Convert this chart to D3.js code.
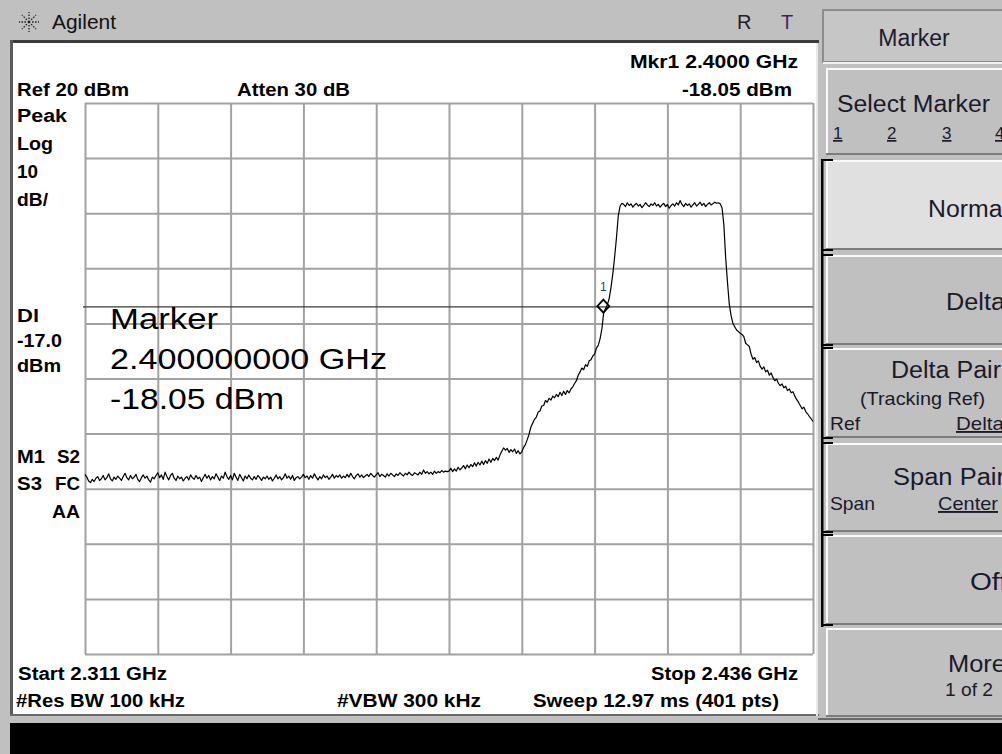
<!DOCTYPE html>
<html><head><meta charset="utf-8">
<script src="https://cdn.jsdelivr.net/npm/d3@7"></script>
<style>
html,body{margin:0;padding:0;background:#c0c0c0;overflow:hidden}
svg{display:block}
text{font-family:"Liberation Sans",Arial,sans-serif}
</style></head>
<body>
<svg id="c" width="1002" height="754"></svg>
<script>
// ---- sweep settings ----
const startGHz = 2.311, stopGHz = 2.436, sweepPoints = 401;
const refLevel = 20, dbPerDiv = 10, nDiv = 10;
const displayLine = -17.0;
const markerFreq = 2.4, markerLevel = -18.05;

// ---- trace values (dBm), 401 points in five pieces ----
const traceFloor = [ // points 0-199
-47.4,-47.9,-48.6,-48.9,-48.3,-48.7,-48.1,-47.8,-48.5,-48.2,-47.6,-48.4,-48.0,-47.3,-48.2,-48.6,-47.9,-48.3,-47.7,-48.1,
-48.5,-47.8,-47.2,-48.0,-48.4,-47.6,-48.2,-47.9,-47.4,-48.3,-48.7,-48.0,-47.5,-48.1,-47.7,-48.4,-48.8,-47.9,-48.2,-47.6,
-47.1,-48.0,-47.5,-48.3,-47.0,-47.8,-48.4,-47.6,-47.2,-48.1,-48.5,-47.7,-48.2,-47.9,-48.6,-48.1,-47.8,-48.4,-47.5,-48.0,
-48.3,-47.6,-48.2,-47.9,-48.7,-48.0,-47.4,-48.1,-47.6,-48.4,-47.8,-48.2,-47.3,-47.9,-48.5,-47.7,-48.1,-47.0,-47.8,-48.3,
-47.6,-48.4,-47.2,-47.9,-48.5,-47.4,-48.0,-48.6,-47.7,-48.2,-47.5,-48.1,-48.4,-47.8,-48.3,-47.6,-48.0,-48.5,-47.9,-48.2,
-47.7,-48.3,-47.9,-48.6,-48.1,-47.5,-48.2,-47.8,-48.4,-48.0,-47.3,-48.1,-47.7,-48.3,-47.6,-48.5,-48.0,-47.8,-48.2,-47.9,
-47.4,-48.0,-47.7,-48.3,-47.6,-48.1,-47.3,-47.9,-48.4,-47.8,-48.2,-47.5,-48.0,-47.7,-48.3,-47.9,-47.4,-48.1,-47.6,-47.9,
-47.5,-48.1,-47.7,-48.0,-47.4,-47.9,-47.2,-47.8,-48.2,-47.6,-47.3,-47.9,-47.5,-48.0,-47.7,-47.4,-47.8,-47.2,-47.6,-47.9,
-47.5,-47.1,-47.8,-47.4,-47.6,-47.9,-47.3,-47.7,-47.2,-47.5,-47.8,-47.3,-47.6,-47.1,-47.4,-47.7,-47.2,-47.5,-47.0,-47.4,
-47.6,-47.1,-47.3,-47.5,-47.0,-47.4,-46.6,-47.2,-46.9,-47.3,-47.0,-47.4,-46.8,-47.2,-46.9,-47.1,-46.7,-47.0,-46.8,-46.9];
const traceSkirt = [ // points 200-284
-46.8,-46.3,-46.9,-46.4,-46.8,-46.1,-46.6,-46.2,-45.8,-46.4,
-45.7,-46.2,-45.6,-46.0,-45.3,-45.9,-45.2,-45.7,-45.0,-45.6,
-44.9,-45.4,-44.6,-45.2,-44.5,-44.9,-44.3,-44.8,-43.9,-43.2,
-42.6,-43.0,-42.7,-43.4,-42.9,-43.3,-42.8,-43.6,-43.1,-43.7,
-43.3,-42.5,-42.0,-41.1,-40.1,-38.8,-38.1,-37.4,-37.0,-36.1,
-35.9,-35.0,-34.9,-34.0,-34.3,-33.6,-33.9,-33.2,-33.5,-32.9,
-33.3,-32.5,-33.1,-32.3,-32.9,-32.2,-32.6,-31.9,-31.5,-30.9,
-30.4,-29.4,-28.8,-28.1,-28.4,-27.5,-27.8,-26.8,-26.6,-25.9,
-25.6,-24.5,-24.0,-22.8,-21.0];
const traceEdge = [ // points 285-295
-18.05,-17.3,-16.6,-15.5,-13.5,-11.0,-8.0,-4.5,-0.5,1.3,1.8];
const tracePlateau = [ // points 296-349
1.6,1.2,1.9,1.4,1.7,1.1,1.5,1.8,1.3,1.6,1.0,1.4,1.9,1.5,1.2,1.7,1.4,1.9,1.3,1.6,
1.1,1.5,1.8,1.2,1.6,0.9,1.4,1.7,1.3,1.9,1.5,2.3,1.6,1.2,1.8,1.4,1.7,1.1,1.5,1.9,
1.3,1.6,2.0,1.4,1.8,1.2,1.6,1.9,1.5,1.7,2.0,1.8,1.9,1.7];
const traceFall = [ // points 350-400
1.0,-2.0,-8.0,-12.5,-16.5,-18.6,-20.0,-20.6,-21.2,-21.5,
-21.8,-22.0,-22.4,-23.6,-23.9,-24.2,-25.6,-26.5,-26.2,-27.1,
-26.8,-27.8,-28.3,-27.9,-28.8,-28.5,-29.4,-29.0,-29.8,-30.4,
-30.1,-30.9,-31.3,-31.0,-31.7,-31.4,-32.2,-31.9,-32.6,-32.4,
-33.2,-33.8,-34.3,-34.9,-35.5,-35.2,-36.0,-36.4,-36.9,-37.3,-37.8];

// ---- text labels ----
const headerLabels = ["Ref 20 dBm","Atten 30 dB","Mkr1  2.4000 GHz","-18.05 dBm"];
const leftLabels = ["Peak","Log","10","dB/","Dl","-17.0","dBm","M1","S2","S3","FC","AA"];
const footLabels = ["Start 2.311 GHz","Stop 2.436 GHz","#Res BW 100 kHz","#VBW 300 kHz","Sweep 12.97 ms (401 pts)"];
const markerLines = ["Marker","2.400000000 GHz","-18.05 dBm"];
const softkeys = ["Marker","Select Marker","Normal","Delta","Delta Pair","Span Pair","Off","More"];

const trace = traceFloor.concat(traceSkirt, traceEdge, tracePlateau, traceFall);
const stepGHz = (stopGHz - startGHz) / (sweepPoints - 1);
const freqs = d3.range(sweepPoints).map(i => startGHz + i * stepGHz);

const svg = d3.select("#c");
const G = {l:85, r:813, t:103, b:654};

// ---------- window chrome ----------
svg.append("rect").attr("x",0).attr("y",0).attr("width",1002).attr("height",754).attr("fill","#c0c0c0");
svg.append("rect").attr("x",12).attr("y",43).attr("width",805).attr("height",672).attr("fill","#ffffff");
svg.append("rect").attr("x",10).attr("y",40).attr("width",809).attr("height",3).attr("fill","#3c3c3c");
svg.append("rect").attr("x",10).attr("y",40).attr("width",3).attr("height",676).attr("fill","#5a5a5a");
svg.append("rect").attr("x",10).attr("y",714).attr("width",809).attr("height",2).attr("fill","#6a6a6a");
svg.append("rect").attr("x",816).attr("y",43).attr("width",2).attr("height",673).attr("fill","#e8e8e8");
svg.append("rect").attr("x",10).attr("y",723).attr("width",992).attr("height",31).attr("fill","#000");

// Agilent logo spark
const logo = svg.append("g").attr("transform","translate(29,22)");
d3.range(8).forEach(k => {
  const a = k*Math.PI/4;
  logo.append("line").attr("x1",Math.cos(a)*3).attr("y1",Math.sin(a)*3)
    .attr("x2",Math.cos(a)*10).attr("y2",Math.sin(a)*10)
    .attr("stroke","#222").attr("stroke-width",1.3).attr("stroke-dasharray","1.6,1.4");
});
logo.append("circle").attr("r",1.4).attr("fill","#222");
svg.append("text").attr("x",52).attr("y",29).attr("font-size",20).attr("fill","#111")
  .attr("textLength",64).attr("lengthAdjust","spacingAndGlyphs").text("Agilent");
svg.append("text").attr("x",737).attr("y",29).attr("font-size",20).attr("fill","#222").text("R");
svg.append("text").attr("x",781).attr("y",29).attr("font-size",20).attr("fill","#4b1f5c").text("T");

// ---------- scales ----------
const x = d3.scaleLinear().domain([startGHz, stopGHz]).range([G.l, G.r]);
const y = d3.scaleLinear().domain([refLevel - dbPerDiv*nDiv, refLevel]).range([G.b, G.t]);
const gridF = d3.range(nDiv+1).map(k => startGHz + k*(stopGHz-startGHz)/nDiv);
const gridL = d3.range(nDiv+1).map(k => refLevel - k*dbPerDiv);

const gx = svg.append("g").attr("transform",`translate(0,${G.b})`)
  .call(d3.axisBottom(x).tickValues(gridF).tickSize(-(G.b-G.t)).tickFormat(""));
const gy = svg.append("g").attr("transform",`translate(${G.l},0)`)
  .call(d3.axisLeft(y).tickValues(gridL).tickSize(-(G.r-G.l)).tickFormat(""));
[gx,gy].forEach(g => {
  g.select(".domain").remove();
  g.selectAll(".tick line").attr("stroke","#a2a2a2").attr("stroke-width",2);
});

// display line
svg.append("line").attr("x1",G.l-2).attr("x2",G.r).attr("y1",y(displayLine)).attr("y2",y(displayLine))
  .attr("stroke","#3a3a3a").attr("stroke-width",1.2);

// trace
svg.append("path").datum(trace)
  .attr("d", d3.line().x((d,i)=>x(freqs[i])).y(d=>y(d)))
  .attr("fill","none").attr("stroke","#000").attr("stroke-width",1.2).attr("stroke-linejoin","round");

// marker: diamond sits with its lower tip on the trace point
const mx = x(markerFreq), my = y(markerLevel);
svg.append("path").attr("d",`M${mx},${my-13}L${mx+6},${my-6.5}L${mx},${my}L${mx-6},${my-6.5}Z`)
  .attr("fill","none").attr("stroke","#000").attr("stroke-width",1.8);
svg.append("text").attr("x",mx).attr("y",my-22).attr("font-size",12).attr("text-anchor","middle")
  .attr("font-family","DejaVu Sans Mono").attr("fill","#2a4050").text("1");

// ---------- annotations ----------
function bt(t,xp,yp,w,size){
  const e = svg.append("text").attr("x",xp).attr("y",yp).attr("font-size",size||17.5)
    .attr("font-weight","bold").attr("fill","#000").text(t);
  if (w) e.attr("textLength",w).attr("lengthAdjust","spacingAndGlyphs");
  return e;
}
bt(headerLabels[0],17,96,112);
bt(headerLabels[1],237,96,113);
bt(headerLabels[2],630,68,168);
bt(headerLabels[3],682,96,110);
const leftPos = [[17,122,50],[17,150,36],[17,178,21],[17,206,31],[17,322,22],[17,347,45],[17,372,44],
                 [17,463,28],[57,463,23],[17,490,25],[55,490,25],[52,518,28]];
leftLabels.forEach((t,i)=>bt(t,leftPos[i][0],leftPos[i][1],leftPos[i][2]));
bt(footLabels[0],18,680,149);
bt(footLabels[1],651,680,147);
bt(footLabels[2],16,707,169);
bt(footLabels[3],337,707,144);
bt(footLabels[4],533,707,246);

const mPos = [[110,329,108],[110,369,277],[110,409,174]];
markerLines.forEach((t,i)=>svg.append("text").attr("x",mPos[i][0]).attr("y",mPos[i][1])
  .attr("font-size",29).attr("fill","#000").attr("textLength",mPos[i][2])
  .attr("lengthAdjust","spacingAndGlyphs").text(t));

// ---------- softkeys ----------
svg.append("rect").attr("x",823).attr("y",10).attr("width",190).attr("height",52).attr("fill","#c6c6c6")
  .attr("stroke","#8c8c8c").attr("stroke-width",2);
svg.append("line").attr("x1",823).attr("x2",1002).attr("y1",63).attr("y2",63).attr("stroke","#f0f0f0").attr("stroke-width",2);
svg.append("text").attr("x",914).attr("y",46).attr("font-size",23).attr("text-anchor","middle")
  .attr("fill","#1c1c2c").text(softkeys[0]);

const btns = [
  {y0:68,y1:155,fill:"#c0c0c0"},
  {y0:160,y1:250,fill:"#e0e0e0"},
  {y0:255,y1:345,fill:"#c0c0c0"},
  {y0:348,y1:438,fill:"#c0c0c0"},
  {y0:443,y1:532,fill:"#c0c0c0"},
  {y0:535,y1:625,fill:"#c0c0c0"},
  {y0:628,y1:717,fill:"#c0c0c0"}];
btns.forEach(b=>{
  svg.append("rect").attr("x",826).attr("y",b.y0).attr("width",190).attr("height",b.y1-b.y0).attr("fill",b.fill);
  svg.append("rect").attr("x",826).attr("y",b.y0).attr("width",190).attr("height",2).attr("fill","#fafafa");
  svg.append("rect").attr("x",826).attr("y",b.y0).attr("width",2).attr("height",b.y1-b.y0).attr("fill","#fafafa");
  svg.append("rect").attr("x",826).attr("y",b.y1-2).attr("width",190).attr("height",2).attr("fill","#7c7c7c");
});
svg.append("rect").attr("x",818).attr("y",718).attr("width",184).attr("height",2).attr("fill","#6a6a6a");
svg.append("rect").attr("x",821).attr("y",160).attr("width",2.5).attr("height",467).attr("fill","#000");
[160,250,255,345,348,438,443,532,535,625].forEach(v=>{
  svg.append("rect").attr("x",821).attr("y",v-1).attr("width",12).attr("height",2).attr("fill","#000");
});

function st(t,xp,yp,size,w,anchor,ul){
  const e = svg.append("text").attr("x",xp).attr("y",yp).attr("font-size",size).attr("fill","#1a1a2a").text(t);
  if (w) e.attr("textLength",w).attr("lengthAdjust","spacingAndGlyphs");
  if (anchor) e.attr("text-anchor",anchor);
  if (ul) e.attr("text-decoration","underline");
  return e;
}
st(softkeys[1],837,112,23,153);
["1","2","3","4"].forEach((d,i)=>st(d,[833,887,942,995][i],139,17,null,null,true));
st(softkeys[2],928,217,23,80);
st(softkeys[3],946,310,23,59);
st(softkeys[4],891,378,23,110);
st("(Tracking Ref)",860,405,19,125);
st("Ref",830,430,19,30);
st("Delta",956,430,19,48,null,true);
st(softkeys[5],893,485,23,112);
st("Span",830,510,19,45);
st("Center",938,510,19,60,null,true);
st(softkeys[6],970,590,23,37);
st(softkeys[7],948,672,23,58);
st("1 of 2",945,696,19,48);
</script>
</body></html>
